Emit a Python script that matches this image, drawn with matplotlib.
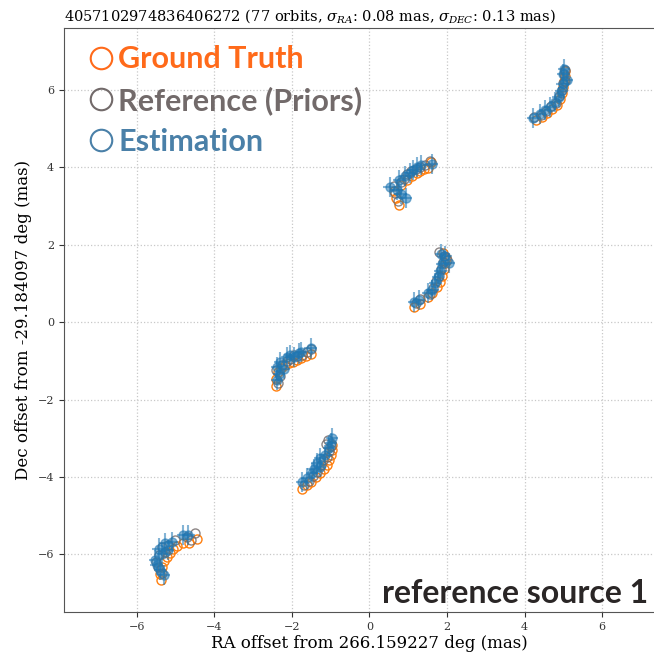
import matplotlib
matplotlib.use("Agg")
import matplotlib.pyplot as plt
from matplotlib.lines import Line2D

plt.rcParams['font.family'] = 'DejaVu Serif'
plt.rcParams['mathtext.fontset'] = 'dejavuserif'

# astrometric offsets per epoch cluster (mas)
est_ra = [4.22, 4.40, 4.52, 4.65, 4.78, 4.88, 4.95, 5.10, 4.98, 5.00, 5.02,
          0.52, 0.70, 0.80, 0.93, 0.76, 0.92, 1.04, 1.12, 1.22, 1.34, 1.60,
          1.15, 1.28, 1.52, 1.62, 1.70, 1.76, 1.83, 1.88, 1.84, 1.96, 2.04,
          -2.39, -2.34, -2.39, -2.30, -2.21, -2.13, -2.04, -1.96, -1.83, -1.76, -1.52,
          -1.74, -1.61, -1.48, -1.44, -1.27, -1.35, -1.27, -1.14, -1.05, -1.00, -0.96,
          -5.31, -5.40, -5.49, -5.53, -5.36, -5.19, -5.44, -5.27, -5.10, -4.80, -4.67]
est_dec = [5.28, 5.38, 5.47, 5.55, 5.68, 5.82, 5.98, 6.25, 6.15, 6.42, 6.55,
           3.50, 3.42, 3.32, 3.20, 3.66, 3.78, 3.86, 3.94, 4.00, 4.05, 4.08,
           0.52, 0.57, 0.76, 0.84, 1.02, 1.16, 1.33, 1.50, 1.76, 1.72, 1.52,
           -1.50, -1.33, -1.15, -1.03, -1.20, -0.90, -0.85, -0.90, -0.81, -0.78, -0.68,
           -4.13, -4.04, -3.91, -3.80, -3.74, -3.65, -3.52, -3.44, -3.26, -3.12, -3.00,
           -6.54, -6.41, -6.28, -6.15, -5.98, -5.89, -5.85, -5.72, -5.68, -5.50, -5.50]

gt_ra = [4.30, 4.45, 4.58, 4.72, 4.83, 4.92, 4.97, 5.00, 5.02, 5.03, 5.04,
         0.75, 0.68, 0.62, 0.80, 0.97, 1.10, 1.22, 1.30, 1.40, 1.50, 1.58,
         1.16, 1.30, 1.50, 1.62, 1.74, 1.82, 1.88, 1.93, 1.96, 1.98, 1.90,
         -2.42, -2.40, -2.35, -2.28, -2.18, -2.08, -1.98, -1.86, -1.76, -1.64, -1.52,
         -1.74, -1.62, -1.50, -1.38, -1.28, -1.18, -1.10, -1.04, -1.00, -0.98, -0.98,
         -5.38, -5.40, -5.36, -5.30, -5.23, -5.14, -5.06, -4.96, -4.80, -4.66, -4.46]
gt_dec = [5.22, 5.30, 5.40, 5.50, 5.62, 5.76, 5.92, 6.08, 6.22, 6.36, 6.48,
          3.03, 3.20, 3.40, 3.55, 3.67, 3.78, 3.85, 3.90, 3.95, 3.98, 4.14,
          0.38, 0.46, 0.66, 0.76, 0.90, 1.04, 1.20, 1.36, 1.52, 1.66, 1.78,
          -1.64, -1.48, -1.30, -1.18, -1.10, -1.06, -1.02, -0.98, -0.92, -0.88, -0.82,
          -4.30, -4.22, -4.12, -4.00, -3.90, -3.80, -3.68, -3.56, -3.44, -3.30, -3.18,
          -6.66, -6.50, -6.34, -6.18, -6.06, -5.96, -5.86, -5.78, -5.72, -5.70, -5.60]

ref_ra = [4.25, 4.42, 4.55, 4.68, 4.80, 4.90, 4.97, 5.05, 5.00, 5.02, 5.04,
          0.62, 0.66, 0.74, 0.82, 0.97, 1.08, 1.20, 1.30, 1.42, 1.55, 0.90,
          1.20, 1.30, 1.55, 1.65, 1.72, 1.80, 1.85, 1.90, 1.92, 2.00, 1.80,
          -2.36, -2.30, -2.40, -2.25, -2.14, -2.06, -1.94, -1.86, -1.74, -1.60, -1.50,
          -1.70, -1.56, -1.45, -1.36, -1.26, -1.20, -1.10, -1.04, -1.12, -1.06, -1.00,
          -5.36, -5.46, -5.50, -5.44, -5.28, -5.34, -5.20, -5.02, -4.72, -4.50, -4.60]
ref_dec = [5.30, 5.36, 5.45, 5.58, 5.66, 5.84, 6.00, 6.22, 6.18, 6.40, 6.52,
           3.52, 3.33, 3.12, 3.62, 3.82, 3.90, 3.96, 4.02, 4.06, 4.16, 3.70,
           0.50, 0.60, 0.72, 0.88, 1.06, 1.20, 1.38, 1.55, 1.70, 1.60, 1.80,
           -1.56, -1.40, -1.24, -1.10, -1.00, -0.94, -0.86, -0.88, -0.84, -0.76, -0.70,
           -4.20, -4.10, -3.98, -3.86, -3.70, -3.56, -3.48, -3.34, -3.14, -3.04, -3.20,
           -6.48, -6.34, -6.20, -6.02, -5.94, -5.80, -5.76, -5.64, -5.56, -5.46, -5.62]

sigma_ra = 0.08
sigma_dec = 0.13

source_id = "4057102974836406272"
n_orbits = 77
ra0 = 266.159227
dec0 = -29.184097

c_gt = '#ff7f0e'
c_ref = '#6f6767'
c_est = '#1f77b4'
leg_colors = ['#ff6a1a', '#726a6a', '#4a80a8']

fig = plt.figure(figsize=(6.54, 6.56), dpi=100)
# axes runs past the right edge of the canvas
ax = fig.add_axes([64 / 654, 44 / 656, 611 / 654, 584 / 656])

ax.plot(gt_ra, gt_dec, 'o', mfc='none', mec=c_gt, ms=6.5, mew=1.0, zorder=2)
ax.plot(ref_ra, ref_dec, 'o', mfc='none', mec=c_ref, ms=6.5, mew=1.0, alpha=0.8, zorder=3)
ax.errorbar(est_ra, est_dec, xerr=2 * sigma_ra, yerr=2 * sigma_dec, fmt='o',
            color=c_est, ms=6.5, alpha=0.55, elinewidth=1.5, capsize=0, zorder=4)

ax.set_xlim(-7.88, 7.88)
ax.set_ylim(-7.49, 7.60)
ax.set_xticks([-6, -4, -2, 0, 2, 4, 6])
ax.set_yticks([-6, -4, -2, 0, 2, 4, 6])
ax.grid(True, ls=':', color='#c8c8c8', lw=0.9)
ax.tick_params(labelsize=8, colors='#333333', length=3.5)
for s in ax.spines.values():
    s.set_color('#555555')

ax.set_xlabel("RA offset from %.6f deg (mas)" % ra0, fontsize=12, labelpad=2)
ax.set_ylabel("Dec offset from %.6f deg (mas)" % dec0, fontsize=12, labelpad=4)
ax.set_title(r"%s (%d orbits, $\sigma_{RA}$: %.2f mas, $\sigma_{DEC}$: %.2f mas)"
             % (source_id, n_orbits, sigma_ra, sigma_dec),
             loc='left', fontsize=10.5, pad=5)

handles = [Line2D([], [], ls='none', marker='o', mfc='none', mec=c, ms=15.5, mew=1.5)
           for c in leg_colors]
leg = ax.legend(handles, ["Ground Truth", "Reference (Priors)", "Estimation"],
                loc='upper left', bbox_to_anchor=(9 / 611, 1 - 5 / 584),
                frameon=False, handletextpad=0.08, labelspacing=0.42,
                borderaxespad=0, handlelength=1.0,
                prop={'family': 'Lato', 'weight': 'bold', 'size': 22},
                labelcolor=leg_colors)

fig.text(648 / 654, 1 - 603 / 656, "reference source 1", ha='right', va='baseline',
         family='Lato', weight='bold', fontsize=23, color='#2a2626')

fig.savefig("out.png", dpi=100)
